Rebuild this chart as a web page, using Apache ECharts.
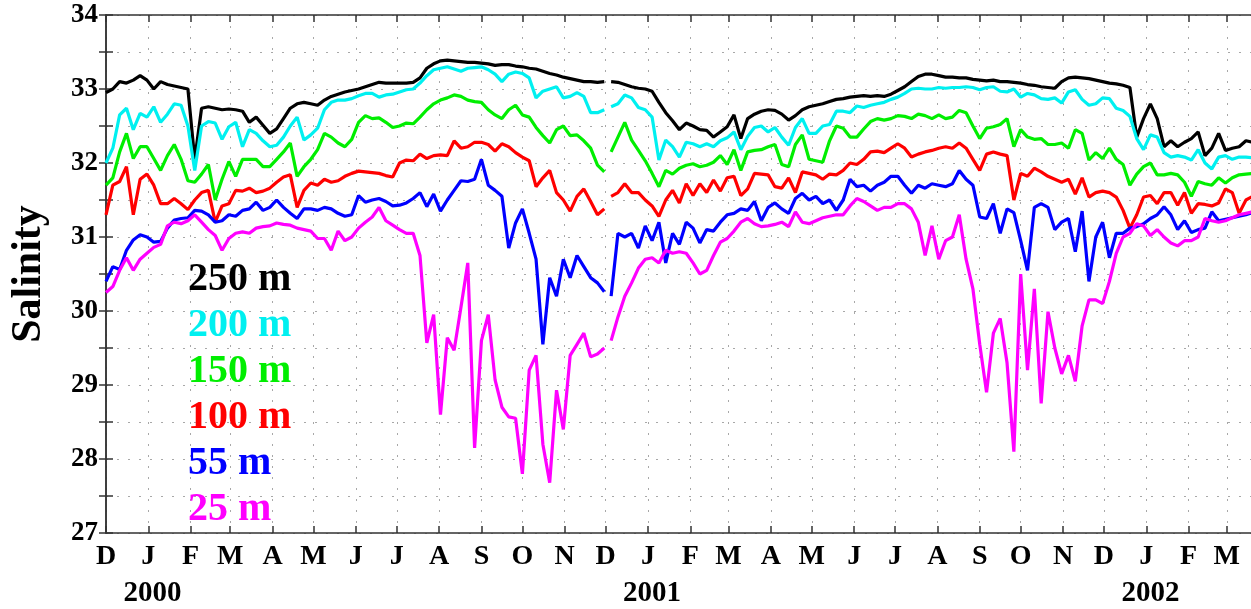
<!DOCTYPE html>
<html>
<head>
<meta charset="utf-8">
<script src="https://cdn.jsdelivr.net/npm/echarts@6/dist/echarts.min.js"></script>
<style>
  html, body { margin: 0; padding: 0; background: #fff; }
  #chart { width: 1251px; height: 609px; }
</style>
</head>
<body>
<div id="chart"></div>
<script>
// daily salinity, one value every 5 days from 1 Dec 1999
var STEP = 5;
var GAP_AFTER = 73;      // instrument turnaround, early Dec 2000
var GAP_DAY = 367;

var s250 = [
  32.95, 33.0, 33.1, 33.08, 33.12, 33.18, 33.12, 33.0, 33.1, 33.06,
  33.04, 33.02, 33.0, 32.05, 32.74, 32.76, 32.74, 32.72, 32.73, 32.72,
  32.7, 32.55, 32.62, 32.51, 32.4, 32.46, 32.6, 32.74, 32.8, 32.82,
  32.8, 32.78, 32.85, 32.9, 32.93, 32.96, 32.98, 33.0, 33.03, 33.06,
  33.09, 33.08, 33.08, 33.08, 33.08, 33.09, 33.15, 33.28, 33.34, 33.38,
  33.39, 33.38, 33.37, 33.36, 33.36, 33.35, 33.34, 33.32, 33.33, 33.33,
  33.31, 33.3, 33.28, 33.27, 33.24, 33.21, 33.19, 33.16, 33.14, 33.12,
  33.1, 33.1, 33.09, 33.1, 33.1, 33.09, 33.06, 33.03, 33.01, 33.0,
  32.97, 32.82, 32.68, 32.57, 32.45, 32.54, 32.5, 32.45, 32.44, 32.35,
  32.42, 32.49, 32.65, 32.33, 32.6, 32.66, 32.7, 32.72, 32.71, 32.66,
  32.58, 32.64, 32.72, 32.76, 32.78, 32.8, 32.83, 32.86, 32.87, 32.89,
  32.9, 32.91, 32.9, 32.91, 32.9, 32.93, 32.98, 33.03, 33.1, 33.17,
  33.2, 33.2, 33.18, 33.16, 33.16, 33.15, 33.15, 33.13, 33.12, 33.11,
  33.12, 33.1, 33.1, 33.09, 33.08, 33.06, 33.05, 33.03, 33.02, 33.01,
  33.1, 33.15, 33.16, 33.15, 33.14, 33.12, 33.1, 33.08, 33.07, 33.05,
  33.02, 32.35, 32.6, 32.8, 32.6, 32.22, 32.3, 32.22, 32.28, 32.33,
  32.42, 32.1, 32.2, 32.4, 32.17, 32.2, 32.22, 32.3, 32.28
];
var s200 = [
  32.0, 32.2, 32.65, 32.74, 32.45, 32.67, 32.62, 32.76, 32.55, 32.66,
  32.8, 32.78, 32.5, 31.9, 32.5, 32.56, 32.54, 32.32, 32.49, 32.55,
  32.22, 32.45, 32.4, 32.3, 32.22, 32.24, 32.35, 32.5, 32.62, 32.31,
  32.38, 32.47, 32.72, 32.82, 32.85, 32.85, 32.87, 32.91, 32.94, 32.94,
  32.89, 32.92, 32.93, 32.96, 32.99, 33.0, 33.08, 33.18, 33.26, 33.28,
  33.3, 33.27, 33.24, 33.28, 33.29, 33.3, 33.26, 33.2, 33.1, 33.2,
  33.23, 33.21, 33.15, 32.88, 32.97, 33.0, 33.03, 32.88, 32.9, 32.95,
  32.9, 32.68, 32.68, 32.72, 32.76, 32.8, 32.92, 32.88, 32.75, 32.72,
  32.62, 32.04, 32.31, 32.22, 32.08, 32.28, 32.26, 32.22, 32.26, 32.22,
  32.3, 32.34, 32.42, 32.18, 32.36, 32.48, 32.5, 32.42, 32.48, 32.35,
  32.24, 32.48, 32.6, 32.4, 32.4, 32.5, 32.52, 32.7, 32.7, 32.68,
  32.77, 32.75, 32.78, 32.8, 32.82, 32.86, 32.89, 32.94, 33.0, 33.01,
  33.0, 33.0, 33.02, 33.01, 33.02, 33.02, 33.03, 33.02, 32.99, 33.02,
  33.03, 32.97, 32.96, 33.0, 32.89, 32.94, 32.92, 32.87, 32.86, 32.88,
  32.81, 32.96, 32.99, 32.86, 32.78, 32.8, 32.88, 32.87, 32.74, 32.71,
  32.63, 32.33, 32.18, 32.38, 32.35, 32.14, 32.08, 32.1, 32.08, 32.04,
  32.18, 32.0, 31.92, 32.08, 32.1, 32.05, 32.08, 32.08, 32.07
];
var s150 = [
  31.7, 31.8, 32.15, 32.4, 32.06, 32.22, 32.22, 32.06, 31.9, 32.1,
  32.25, 32.05, 31.76, 31.74, 31.85, 31.98, 31.5, 31.78, 32.02, 31.82,
  32.05, 32.05, 32.05, 31.95, 31.95, 32.05, 32.15, 32.27, 31.82, 31.95,
  32.05, 32.18, 32.4, 32.35, 32.27, 32.22, 32.32, 32.55, 32.64, 32.6,
  32.61, 32.55, 32.48, 32.5, 32.54, 32.53, 32.62, 32.72, 32.8, 32.85,
  32.88, 32.92, 32.9, 32.85, 32.83, 32.82, 32.72, 32.65, 32.6, 32.72,
  32.78, 32.65, 32.62, 32.48, 32.37, 32.27, 32.45, 32.5, 32.37, 32.38,
  32.3, 32.2, 31.97, 31.88, 32.15, 32.35, 32.55, 32.31, 32.17, 32.03,
  31.86, 31.68, 31.9, 31.85, 31.93, 31.97, 31.99, 31.95, 31.97, 32.01,
  32.1, 31.98, 32.18, 31.9, 32.15, 32.17, 32.18, 32.22, 32.25, 31.98,
  31.95, 32.25, 32.38, 32.05, 32.03, 32.01, 32.3, 32.5, 32.47, 32.35,
  32.35, 32.46, 32.56, 32.6, 32.58, 32.6, 32.64, 32.63, 32.6, 32.66,
  32.64, 32.6, 32.65, 32.6, 32.62, 32.71, 32.68, 32.5, 32.33, 32.47,
  32.49, 32.52, 32.6, 32.22, 32.45, 32.35, 32.32, 32.33, 32.25, 32.25,
  32.27, 32.2, 32.45, 32.4, 32.04, 32.14, 32.06, 32.2, 32.05, 31.98,
  31.7, 31.85, 31.95, 32.0, 31.84, 31.84, 31.86, 31.84, 31.74, 31.55,
  31.75, 31.72, 31.7, 31.8, 31.73, 31.8, 31.84, 31.85, 31.86
];
var s100 = [
  31.3, 31.7, 31.75, 31.95, 31.3, 31.78, 31.85, 31.7, 31.45, 31.45,
  31.52, 31.45, 31.37, 31.5, 31.6, 31.63, 31.2, 31.42, 31.45, 31.63,
  31.62, 31.66, 31.6, 31.62, 31.66, 31.74, 31.81, 31.84, 31.4, 31.63,
  31.73, 31.7, 31.78, 31.74, 31.76, 31.82, 31.86, 31.89, 31.88, 31.87,
  31.86, 31.83, 31.81, 32.0, 32.04, 32.03, 32.12, 32.06, 32.1, 32.11,
  32.1, 32.3, 32.2, 32.22, 32.28, 32.28, 32.25, 32.16, 32.26, 32.22,
  32.14, 32.08, 32.03, 31.68, 31.8, 31.9, 31.6, 31.5, 31.35, 31.55,
  31.65, 31.48, 31.3, 31.38, 31.55, 31.6, 31.72, 31.6, 31.6, 31.5,
  31.42, 31.28, 31.5, 31.63, 31.46, 31.72, 31.56, 31.72, 31.6, 31.77,
  31.62, 31.8, 31.82, 31.56, 31.65, 31.86, 31.85, 31.84, 31.68, 31.66,
  31.8, 31.6, 31.88, 31.86, 31.84, 31.78, 31.85, 31.84, 31.9, 32.0,
  31.98, 32.05, 32.15, 32.16, 32.14, 32.2, 32.26, 32.2, 32.08, 32.12,
  32.15, 32.17, 32.2, 32.22, 32.2, 32.27, 32.2, 32.05, 31.9, 32.12,
  32.15, 32.12, 32.1, 31.5, 31.86, 31.82, 31.93, 31.88, 31.82, 31.78,
  31.74, 31.78, 31.58, 31.8, 31.54, 31.6, 31.62, 31.6, 31.54, 31.36,
  31.12, 31.3, 31.54, 31.56, 31.45, 31.6, 31.6, 31.43, 31.6, 31.32,
  31.45, 31.44, 31.42, 31.46, 31.65, 31.6, 31.32, 31.5, 31.55
];
var s55 = [
  30.4, 30.6, 30.56, 30.82, 30.96, 31.03, 31.0, 30.93, 30.94, 31.12,
  31.23, 31.25, 31.26, 31.36, 31.35, 31.3, 31.2, 31.22, 31.3, 31.28,
  31.36, 31.38, 31.47, 31.36, 31.4, 31.5, 31.4, 31.32, 31.25, 31.38,
  31.38, 31.36, 31.4, 31.38, 31.32, 31.28, 31.3, 31.56, 31.47, 31.5,
  31.52, 31.48, 31.42, 31.43, 31.46, 31.52, 31.6, 31.41, 31.58, 31.35,
  31.5, 31.63, 31.76, 31.75, 31.78, 32.05, 31.7, 31.63, 31.55, 30.85,
  31.19, 31.38, 31.05, 30.7, 29.55, 30.45, 30.2, 30.7, 30.45, 30.75,
  30.6, 30.45, 30.38, 30.26, 30.2, 31.05, 31.0, 31.05, 30.85, 31.15,
  30.95, 31.2, 30.65, 31.05, 30.9, 31.2, 31.12, 30.92, 31.1, 31.08,
  31.2, 31.3, 31.32, 31.38, 31.36, 31.48, 31.22, 31.4, 31.46, 31.38,
  31.32, 31.52, 31.59, 31.5, 31.55, 31.45, 31.5, 31.36, 31.5, 31.78,
  31.68, 31.7, 31.62, 31.7, 31.74, 31.82, 31.82, 31.7, 31.59, 31.7,
  31.66, 31.72, 31.7, 31.68, 31.72, 31.9, 31.78, 31.7, 31.27, 31.25,
  31.45, 31.05, 31.38, 31.33, 30.95, 30.55, 31.4, 31.45, 31.4, 31.1,
  31.2, 31.25, 30.8, 31.35, 30.4, 31.0, 31.2, 30.72, 31.05, 31.05,
  31.12, 31.14, 31.18, 31.25, 31.3, 31.41, 31.3, 31.1, 31.22, 31.06,
  31.1, 31.12, 31.34, 31.22, 31.24, 31.26, 31.28, 31.3, 31.33
];
var s25 = [
  30.25, 30.33, 30.55, 30.72, 30.55, 30.7, 30.78, 30.86, 30.9, 31.15,
  31.2, 31.18, 31.22, 31.3, 31.2, 31.1, 31.02, 30.82, 30.98, 31.05,
  31.07, 31.05, 31.12, 31.14, 31.15, 31.19, 31.17, 31.16, 31.12, 31.1,
  31.08, 30.98, 30.98, 30.82, 31.08, 30.95, 31.0, 31.12, 31.2, 31.27,
  31.4, 31.22, 31.16, 31.1, 31.05, 31.05, 30.75, 29.57, 29.95, 28.6,
  29.64, 29.47, 30.05, 30.65, 28.15, 29.6, 29.95, 29.07, 28.7, 28.57,
  28.55, 27.8, 29.2, 29.4, 28.2, 27.68, 28.93, 28.4, 29.4, 29.55,
  29.7, 29.38, 29.42, 29.5, 29.6, 29.92, 30.2, 30.38, 30.58, 30.7,
  30.72, 30.65, 30.82, 30.78, 30.8, 30.78, 30.65, 30.5, 30.55, 30.75,
  30.93, 30.98, 31.08, 31.2, 31.25, 31.18, 31.14, 31.15, 31.17, 31.2,
  31.14, 31.34, 31.2, 31.18, 31.22, 31.26, 31.28, 31.3, 31.3, 31.42,
  31.52, 31.48, 31.42, 31.36, 31.4, 31.4, 31.45, 31.45, 31.38, 31.2,
  30.75, 31.15, 30.7, 30.95, 31.0, 31.3, 30.7, 30.3, 29.55, 28.9,
  29.7, 29.9, 29.3, 28.1, 30.5, 29.2, 30.3, 28.75, 29.99, 29.5,
  29.15, 29.4, 29.05, 29.8, 30.15, 30.15, 30.1, 30.4, 30.78, 31.0,
  31.05, 31.18, 31.15, 31.02, 31.1, 31.0, 30.92, 30.88, 30.95, 30.95,
  31.0, 31.25, 31.22, 31.2, 31.22, 31.26, 31.3, 31.32, 31.34
];

var depths = ['250 m', '200 m', '150 m', '100 m', '55 m', '25 m'];
var colors = ['#000000', '#00f0f0', '#00ee00', '#ff0000', '#0000ff', '#ff00ff'];
var values = [s250, s200, s150, s100, s55, s25];

// one tick per month, Dec 1999 .. Mar 2002
var tickLabels = ['D','J','F','M','A','M','J','J','A','S','O','N',
                  'D','J','F','M','A','M','J','J','A','S','O','N',
                  'D','J','F','M'];
var yearLabels = ['2000', '2001', '2002'];

var DAY = 86400000;
var T0 = Date.UTC(1999, 11, 1);
var monthDays = tickLabels.map(function (l, k) {
    return Math.round((Date.UTC(1999, 11 + k, 1) - T0) / DAY);
});
var yearDays = yearLabels.map(function (y) {
    return Math.round((Date.UTC(+y, 0, 1) - T0) / DAY) + 3;
});
var MAX_DAY = 838.7;

var FONT = '"Liberation Serif", "Times New Roman", serif';

function toData(arr) {
    var out = [];
    for (var i = 0; i < arr.length; i++) {
        out.push([i * STEP, arr[i]]);
        if (i === GAP_AFTER) out.push([GAP_DAY, null]);
    }
    return out;
}

var chart = echarts.init(document.getElementById('chart'));

var series = depths.map(function (name, k) {
    return {
        name: name,
        type: 'line',
        data: toData(values[k]),
        showSymbol: false,
        connectNulls: false,
        lineStyle: { width: 3.2, color: colors[k] },
        itemStyle: { color: colors[k] },
        z: 3
    };
});

var gridDots = { type: [2, 9], color: '#a8a8a8', width: 1 };
var frame = { show: true, lineStyle: { color: '#333', width: 1.5 } };
var tickStyle = { color: '#333', width: 1.5 };

chart.setOption({
    animation: false,
    backgroundColor: '#fff',
    grid: { left: 103, right: 0, top: 15, bottom: 76 },
    legend: {
        orient: 'vertical',
        left: 183,
        top: 260,
        padding: 0,
        itemGap: 6,
        itemWidth: 0,
        itemHeight: 0,
        icon: 'none',
        selectedMode: false,
        textStyle: { fontFamily: FONT, fontWeight: 'bold', fontSize: 40, lineHeight: 40 },
        data: depths.map(function (d, k) {
            return { name: d, textStyle: { color: colors[k] } };
        })
    },
    xAxis: [
        {
            type: 'value', min: 0, max: MAX_DAY, position: 'bottom',
            axisLine: frame,
            axisTick: { show: true, inside: true, length: 7, customValues: monthDays, lineStyle: tickStyle },
            axisLabel: {
                customValues: monthDays, margin: 10,
                fontFamily: FONT, fontWeight: 'bold', fontSize: 28, color: '#000',
                formatter: function (v) { return tickLabels[monthDays.indexOf(Math.round(v))] || ''; }
            },
            splitLine: { show: true, lineStyle: gridDots }
        },
        {
            type: 'value', min: 0, max: MAX_DAY, position: 'top',
            axisLine: frame,
            axisTick: { show: true, inside: true, length: 7, customValues: monthDays, lineStyle: tickStyle },
            axisLabel: { show: false },
            splitLine: { show: false }
        },
        {
            type: 'value', min: 0, max: MAX_DAY, position: 'bottom', offset: 36,
            axisLine: { show: false },
            axisTick: { show: false },
            axisLabel: {
                customValues: yearDays, margin: 10,
                fontFamily: FONT, fontWeight: 'bold', fontSize: 29, color: '#000',
                formatter: function (v) { return yearLabels[yearDays.indexOf(Math.round(v))] || ''; }
            },
            splitLine: { show: false }
        }
    ],
    yAxis: [
        {
            type: 'value', min: 27, max: 34, interval: 0.5, position: 'left',
            name: 'Salinity', nameLocation: 'middle', nameGap: 56,
            nameTextStyle: { fontFamily: FONT, fontWeight: 'bold', fontSize: 42, color: '#000' },
            axisLine: frame,
            axisTick: { show: true, inside: true, length: 7, lineStyle: tickStyle },
            axisLabel: {
                margin: 8, fontFamily: FONT, fontWeight: 'bold', fontSize: 27, color: '#000',
                formatter: function (v) { return Number.isInteger(v) ? String(v) : ''; }
            },
            splitLine: { show: true, lineStyle: gridDots }
        },
        {
            type: 'value', min: 27, max: 34, interval: 0.5, position: 'right',
            axisLine: frame,
            axisTick: { show: true, inside: true, length: 7, lineStyle: tickStyle },
            axisLabel: { show: false },
            splitLine: { show: false }
        }
    ],
    series: series
});
</script>
</body>
</html>
